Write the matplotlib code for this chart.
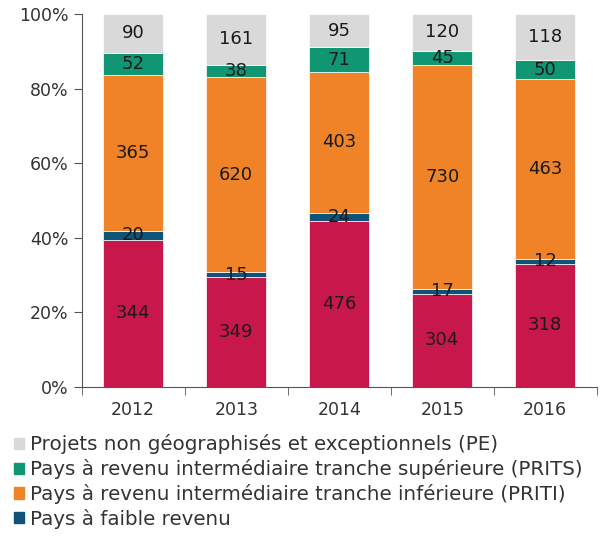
import numpy as np
import matplotlib.pyplot as plt
from matplotlib.patches import Patch

plt.rcParams['font.family'] = ['DejaVu Sans']

years = ["2012", "2013", "2014", "2015", "2016"]
autres = [344, 349, 476, 304, 318]
faible = [20, 15, 24, 17, 12]
priti = [365, 620, 403, 730, 463]
prits = [52, 38, 71, 45, 50]
pe = [90, 161, 95, 120, 118]

series = [autres, faible, priti, prits, pe]
colors = ["#C8174A", "#0F5478", "#F08327", "#109673", "#D9D9D9"]
names = [None,
         "Pays à faible revenu",
         "Pays à revenu intermédiaire tranche inférieure (PRITI)",
         "Pays à revenu intermédiaire tranche supérieure (PRITS)",
         "Projets non géographisés et exceptionnels (PE)"]

data = np.array(series, dtype=float)
pct = data / data.sum(axis=0) * 100

fig = plt.figure(figsize=(6.01, 5.42), dpi=100)
ax = fig.add_axes([0.136, 0.286, 0.857, 0.688])

x = np.arange(len(years))
bottom = np.zeros(len(years))
for vals, p, c in zip(series, pct, colors):
    ax.bar(x, p, bottom=bottom, width=0.58, color=c, edgecolor="white", linewidth=0.5)
    for i in range(len(years)):
        ax.text(x[i], bottom[i] + p[i] / 2, str(vals[i]), ha="center", va="center",
                fontsize=13, color="#1a1a1a")
    bottom += p

ax.set_xlim(-0.5, len(years) - 0.5)
ax.set_ylim(0, 100)
ax.set_yticks(range(0, 101, 20))
ax.set_yticklabels([f"{v}%" for v in range(0, 101, 20)], fontsize=12.5, color="#333333")
ax.set_xticks(x)
ax.set_xticklabels(years, fontsize=12.5, color="#333333")
ax.tick_params(axis="x", length=0, pad=10)
ax.set_xticks(np.arange(-0.5, len(years)), minor=True)
ax.tick_params(axis="x", which="minor", length=6, direction="out", color="#555555")
ax.tick_params(axis="y", length=6, direction="out", color="#555555")
for s in ["top", "right"]:
    ax.spines[s].set_visible(False)
for s in ["left", "bottom"]:
    ax.spines[s].set_color("#555555")

handles = [Patch(color=colors[i], label=names[i]) for i in [4, 3, 2, 1]]
fig.legend(handles=handles, loc="upper left", bbox_to_anchor=(0.01, 0.213),
           frameon=False, fontsize=14.3, handlelength=0.5, handleheight=0.5,
           handletextpad=0.3, labelspacing=0.24, borderaxespad=0, labelcolor="#333333")

fig.savefig("out.png", dpi=100)
